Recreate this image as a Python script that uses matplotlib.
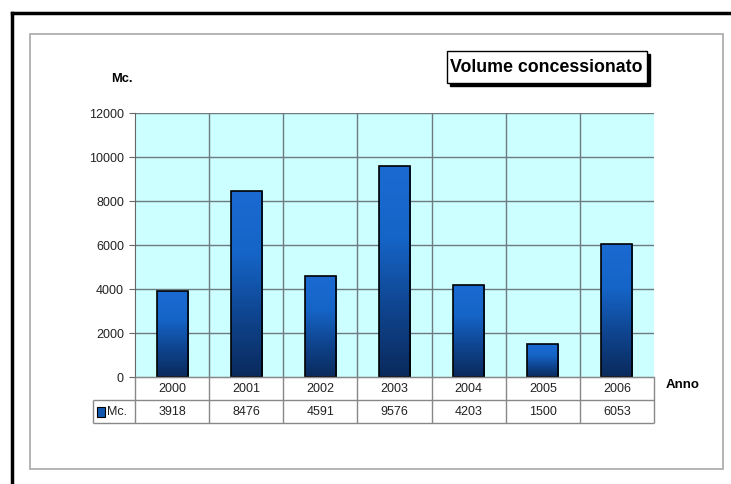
import numpy as np
import matplotlib
matplotlib.use("Agg")
import matplotlib.pyplot as plt
from matplotlib.colors import LinearSegmentedColormap
from matplotlib.patches import Rectangle

plt.rcParams['font.family'] = ['Liberation Sans', 'DejaVu Sans']

anni = ['2000', '2001', '2002', '2003', '2004', '2005', '2006']
volumi = [3918, 8476, 4591, 9576, 4203, 1500, 6053]
y_ticks = [0, 2000, 4000, 6000, 8000, 10000, 12000]
titolo = 'Volume concessionato'
serie = 'Mc.'

W, H = 731, 484
fig = plt.figure(figsize=(W / 100, H / 100), dpi=100)
fig.patch.set_facecolor('white')


def px(x0, y0, x1, y1):
    # pixel box (top-left origin) -> figure fraction rect
    return [x0 / W, 1 - y1 / H, (x1 - x0) / W, (y1 - y0) / H]


# cornice nera (solo alto e sinistra) e riquadro grigio
fig.add_artist(plt.Line2D([12 / W, 1], [1 - 13 / H, 1 - 13 / H], color='black', lw=2.5))
fig.add_artist(plt.Line2D([12 / W, 12 / W], [0, 1 - 13 / H], color='black', lw=2.5))
fig.add_artist(Rectangle((30 / W, 1 - 469 / H), (723 - 30) / W, (469 - 34) / H,
                         transform=fig.transFigure, fill=False, edgecolor='#a8a8a8', lw=1.2))

# area grafico
ax = fig.add_axes(px(135, 113, 654, 377))
ax.set_facecolor('#ccffff')
x = np.arange(len(anni))
ax.set_yticks(y_ticks)
ax.set_yticklabels([str(v) for v in y_ticks], fontsize=9, color='#222222')
ax.set_xticks([])
ax.tick_params(axis='y', length=4, color='#666666', pad=4)
for v in y_ticks[1:]:
    ax.axhline(v, color='#6e7a80', lw=1, zorder=1)
for b in np.arange(0.5, len(anni) - 0.5, 1):
    ax.axvline(b, color='#6e7a80', lw=1, zorder=1)
for s in ['top', 'right']:
    ax.spines[s].set_visible(False)
ax.spines['left'].set_color('#666666')
ax.spines['bottom'].set_color('#666666')

cmap = LinearSegmentedColormap.from_list('blu', ['#0a2a5c', '#0f4590', '#1565c8', '#1a6ad2'])
grad = np.linspace(0, 1, 256).reshape(-1, 1)
bars = ax.bar(x, volumi, width=0.42, facecolor='none', edgecolor='black', lw=1.2, zorder=4)
for r in bars:
    x0, w, h = r.get_x(), r.get_width(), r.get_height()
    im = ax.imshow(grad, cmap=cmap, extent=[x0, x0 + w, 0, h], origin='lower',
                   aspect='auto', zorder=3)
    im.set_clip_path(r)
ax.set_xlim(-0.5, len(anni) - 0.5)
ax.set_ylim(0, 12000)

fig.text(122 / W, 1 - 79 / H, serie, fontsize=9.3, fontweight='bold', ha='center', va='center')
fig.text(683 / W, 1 - 385 / H, 'Anno', fontsize=9.5, fontweight='bold', ha='center', va='center')

# titolo con ombra
ox, oy = 3 / W, 3 / H
fig.add_artist(Rectangle((447 / W + ox, 1 - 83 / H - oy), 200 / W, 32 / H,
                         transform=fig.transFigure, facecolor='black', edgecolor='black'))
fig.add_artist(Rectangle((447 / W, 1 - 83 / H), 200 / W, 32 / H,
                         transform=fig.transFigure, facecolor='white', edgecolor='black', lw=1))
fig.text(546 / W, 1 - 67 / H, titolo, fontsize=12.8, fontweight='bold', ha='center', va='center')

# tabella dati
unit = (654 - 135) / len(anni)
left = -0.5 - (135 - 93) / unit
tax = fig.add_axes(px(93, 377, 654, 423))
tax.set_xlim(left, len(anni) - 0.5)
tax.set_ylim(2, 0)
tax.axis('off')
lc = '#888888'
tax.hlines(0, -0.5, len(anni) - 0.5, color=lc, lw=1, clip_on=False)
tax.hlines([1, 2], left, len(anni) - 0.5, color=lc, lw=1, clip_on=False)
tax.vlines(np.arange(-0.5, len(anni), 1), 0, 2, color=lc, lw=1, clip_on=False)
tax.vlines(left, 1, 2, color=lc, lw=1, clip_on=False)
for i, (a, v) in enumerate(zip(anni, volumi)):
    tax.text(i, 0.52, a, fontsize=9, ha='center', va='center', color='#222222')
    tax.text(i, 1.52, str(v), fontsize=9, ha='center', va='center', color='#222222')
tax.add_patch(Rectangle((left + 0.05, 1.3), 0.11, 0.42, facecolor='#1258b0', edgecolor='black', lw=0.8))
tax.text(left + 0.19, 1.52, serie, fontsize=9, ha='left', va='center', color='#222222')

fig.savefig('out.png', dpi=100)
